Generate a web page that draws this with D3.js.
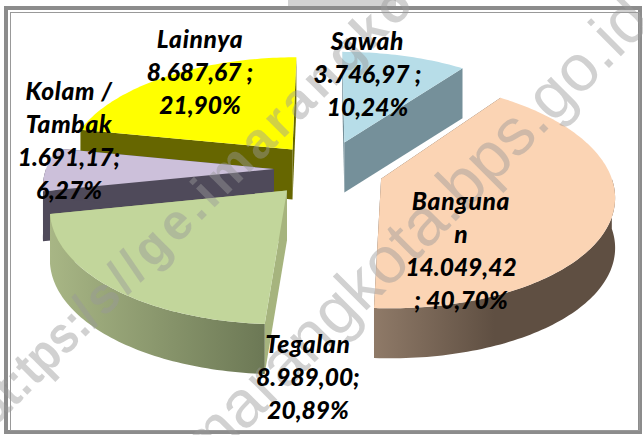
<!DOCTYPE html>
<html><head><meta charset="utf-8">
<style>html,body{margin:0;padding:0;background:#fff}svg{display:block}</style>
<script src="https://cdn.jsdelivr.net/npm/d3@7/dist/d3.min.js"></script>
</head><body><svg id="c" width="643" height="435"></svg>
<script>
const categories = ["Sawah","Bangunan","Tegalan","Kolam / Tambak","Lainnya"];
const areaLabels = ["3.746,97","14.049,42","8.989,00","1.691,17","8.687,67"];
const percents = [10.24,40.70,20.89,6.27,21.90];
const labelLines = [
  ["Sawah","3.746,97 ;","10,24%"],
  ["Banguna","n","14.049,42","; 40,70%"],
  ["Tegalan","8.989,00;","20,89%"],
  ["Kolam /","Tambak","1.691,17;","6,27%"],
  ["Lainnya","8.687,67 ;","21,90%"]
];
// styling / layout, separate from the data
const topColors  = ["#B7DDE8","#FBD4B4","#C2D69B","#CCC0DA","#FFFF00"];
const wallColors = ["#75909A","#5F4F42","#A6B47E","#4F4A5A","#666600"];
const outerGrad  = [["#75909A","#75909A"],["#8F7A68","#5F4F42"],["#A8B685","#6C7855"],["#4F4A5A","#4F4A5A"],["#666600","#666600"]];
const labelPos   = [[367.5,42],[461,202],[308,345],[69,92],[200,40]];
const explode    = [60,58,58,52,54];
const drawOrder  = [0,4,3,1,2];
const cx=326, cy=169, R=228, D=1700, K=0.48, H=50, LH=33;

const svg=d3.select("#c");
const defs=svg.append("defs");
outerGrad.forEach((g,i)=>{
  const lg=defs.append("linearGradient").attr("id","g"+i);
  lg.append("stop").attr("offset","0").attr("stop-color",g[0]);
  lg.append("stop").attr("offset",i===1?"0.5":"1").attr("stop-color",g[1]);
});

// frame
svg.append("rect").attr("width",643).attr("height",435).attr("fill","#fff");
svg.append("rect").attr("x",288).attr("y",0).attr("width",108).attr("height",6).attr("fill","#d2d2d2");
svg.append("rect").attr("x",6).attr("y",8).attr("width",634).attr("height",424).attr("fill","none").attr("stroke","#8c8c8c").attr("stroke-width",4);
svg.append("rect").attr("x",10.5).attr("y",12.5).attr("width",629).attr("height",418).attr("fill","none").attr("stroke","#999").attr("stroke-width",1);

const pie=d3.pie().sort(null).value(d=>d)(percents);
const line=d3.line().x(p=>p[0]).y(p=>p[1]);

function proj(i,theta,r,z){
  const d=pie[i], mid=(d.startAngle+d.endAngle)/2, e=explode[i];
  const u=e*Math.sin(mid)+r*Math.sin(theta);
  const v=e*Math.cos(mid)+r*Math.cos(theta);
  const s=1/(1+v/D);
  return [cx+u*s, cy-K*v*s+z*H];
}
function arcPts(i,a0,a1,z){
  const n=Math.max(2,Math.ceil(Math.abs(a1-a0)/0.02));
  return d3.range(n+1).map(k=>proj(i,a0+(a1-a0)*k/n,R,z));
}
const chart=svg.append("g");
drawOrder.forEach(i=>{
  const d=pie[i], g=chart.append("g");
  [d.startAngle,d.endAngle].forEach(a=>{
    g.append("path").attr("d",line([proj(i,a,0,0),proj(i,a,R,0),proj(i,a,R,1),proj(i,a,0,1)])+"Z")
      .attr("fill",wallColors[i]);
  });
  const a0=Math.max(d.startAngle,Math.PI/2), a1=Math.min(d.endAngle,Math.PI*1.5);
  if(a1>a0){
    g.append("path").attr("d",line(arcPts(i,a0,a1,0).concat(arcPts(i,a1,a0,1)))+"Z").attr("fill","url(#g"+i+")");
  }
  g.append("path").attr("d",line([proj(i,d.startAngle,0,0)].concat(arcPts(i,d.startAngle,d.endAngle,0)))+"Z")
    .attr("fill",topColors[i]);
});

// watermark
const wm=svg.append("g").attr("fill","#9a9a9a").attr("fill-opacity",0.45).attr("font-family","'Liberation Sans',sans-serif");
wm.append("text").attr("font-size",66).attr("text-anchor","end").attr("transform","translate(654,23) rotate(-45)").text("semarangkota.bps.go.id");
wm.append("text").attr("font-size",52).attr("font-weight",700).attr("transform","translate(-4,426) rotate(-45)")
  .attr("textLength",150).attr("lengthAdjust","spacingAndGlyphs").text("at:tps:/");
wm.append("text").attr("font-size",50).attr("font-weight",700).attr("transform","translate(104,318) rotate(-45)")
  .attr("textLength",440).attr("lengthAdjust","spacing").text("s//ge.imarangko");

// labels
labelLines.forEach((ls,i)=>{
  const t=svg.append("g").attr("font-family","Lato,sans-serif").attr("font-weight",900).attr("font-style","italic").attr("font-size",24.5).attr("fill","#000").attr("text-anchor","middle");
  ls.forEach((s,j)=>t.append("text").attr("x",labelPos[i][0]).attr("y",labelPos[i][1]+j*LH+8)
    .attr("letter-spacing",/^[A-Z]/.test(s)?0.7:0).text(s));
});
</script></body></html>
